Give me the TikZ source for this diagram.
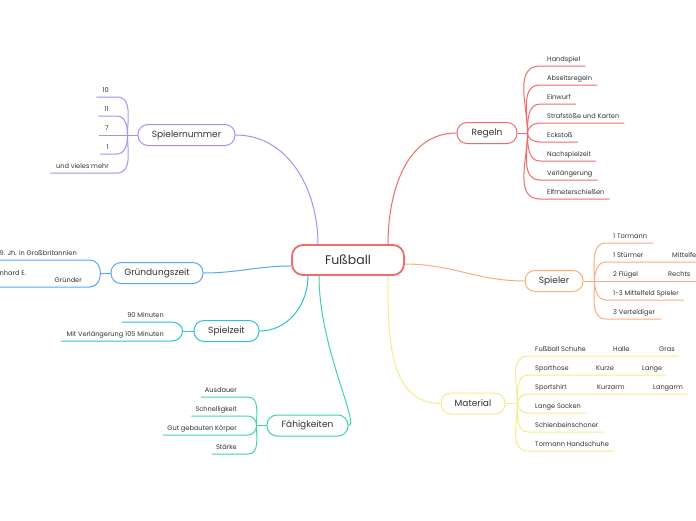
\documentclass[tikz,border=0pt]{standalone}
\usepackage{fontspec}
\setmainfont{Poppins}
\definecolor{mmtext}{HTML}{333333}
\definecolor{mmred}{HTML}{F26B6B}
\definecolor{mmpurple}{HTML}{A592F7}
\definecolor{mmblue}{HTML}{5AA8F0}
\definecolor{mmcyan}{HTML}{2CC3D6}
\definecolor{mmgreen}{HTML}{3FD6A3}
\definecolor{mmorange}{HTML}{FFAD78}
\definecolor{mmyellow}{HTML}{F8EA8A}
\begin{document}
\begin{tikzpicture}[x=1pt,y=-1pt,
    mmroot/.style={draw=mmred,line width=1.8pt,rounded corners=11pt,minimum width=112pt,
        minimum height=30pt,inner sep=0pt,text=mmtext,font=\fontsize{12.5}{14}\selectfont},
    mmtopic/.style={draw=#1,line width=1pt,rounded corners=10pt,minimum height=21pt,
        inner sep=0pt,text=mmtext,font=\fontsize{9}{11}\selectfont},
    mmleaf/.style={anchor=base west,inner sep=0pt,text=mmtext,font=\fontsize{6.6}{8}\selectfont},
    mmleft/.style={mmleaf,anchor=base east},
    mmline/.style={draw=#1,line width=1pt}]
\useasboundingbox [fill=white] (0,0) rectangle (696,520);

% centre and main topics
\node [mmroot] (fussball) at (348,260) {Fußball};
\node [mmtopic=mmred, minimum width=60pt] (regeln) at (487,133) {Regeln};
\node [mmtopic=mmpurple, minimum width=97pt] (nummer) at (186.5,135) {Spielernummer};
\node [mmtopic=mmblue, minimum width=92pt] (gruendung) at (157,273) {Gründungszeit};
\node [mmtopic=mmcyan, minimum width=65pt] (spielzeit) at (226.5,331) {Spielzeit};
\node [mmtopic=mmgreen, minimum width=81pt] (faehig) at (307.5,425.5) {Fähigkeiten};
\node [mmtopic=mmorange, minimum width=58pt] (spieler) at (554,281) {Spieler};
\node [mmtopic=mmyellow, minimum width=64pt] (material) at (473,403.5) {Material};

\draw [mmline=mmred] ([xshift=40pt]fussball.north) to[out=90,in=180] (regeln.west);
\draw [mmline=mmpurple] ([xshift=-30pt]fussball.north) to[out=90,in=0] (nummer.east);
\draw [mmline=mmblue] ([yshift=-6pt]fussball.west) to[out=180,in=0] (gruendung.east);
\draw [mmline=mmcyan] ([xshift=-40pt]fussball.south) to[out=-90,in=0] (spielzeit.east);
\draw [mmline=mmgreen] ([xshift=-29pt]fussball.south) to[out=-90,in=0,out looseness=1.2,in looseness=0.2] (faehig.east);
\draw [mmline=mmorange] ([yshift=-4pt]fussball.east) to[out=0,in=180] (spieler.west);
\draw [mmline=mmyellow] ([xshift=40pt]fussball.south) to[out=-90,in=180] (material.west);

% Regeln
\coordinate (rhub) at ([xshift=10pt]regeln.east);
\draw [mmline=mmred] (regeln.east) -- (rhub);
\node [mmleaf] (r1) at (547,61.5) {Handspiel};
\node [mmleaf] (r2) at (547,80.5) {Abseitsregeln};
\node [mmleaf] (r3) at (547,99.5) {Einwurf};
\node [mmleaf] (r4) at (547,118.5) {Strafstöße und Karten};
\node [mmleaf] (r5) at (547,137.5) {Eckstoß};
\node [mmleaf] (r6) at (547,156.5) {Nachspielzeit};
\node [mmleaf] (r7) at (547,175.5) {Verlängerung};
\node [mmleaf] (r8) at (547,194.5) {Elfmeterschießen};
\draw [mmline=mmred] (rhub) to[out=90,in=180] ([xshift=-7pt,yshift=-4.5pt]r1.base west) -- ([xshift=5pt,yshift=-4.5pt]r1.base east);
\draw [mmline=mmred] (rhub) to[out=90,in=180] ([xshift=-7pt,yshift=-4.5pt]r2.base west) -- ([xshift=5pt,yshift=-4.5pt]r2.base east);
\draw [mmline=mmred] (rhub) to[out=90,in=180] ([xshift=-7pt,yshift=-4.5pt]r3.base west) -- ([xshift=5pt,yshift=-4.5pt]r3.base east);
\draw [mmline=mmred] (rhub) to[out=90,in=180] ([xshift=-7pt,yshift=-4.5pt]r4.base west) -- ([xshift=5pt,yshift=-4.5pt]r4.base east);
\draw [mmline=mmred] (rhub) to[out=-90,in=180] ([xshift=-7pt,yshift=-4.5pt]r5.base west) -- ([xshift=5pt,yshift=-4.5pt]r5.base east);
\draw [mmline=mmred] (rhub) to[out=-90,in=180] ([xshift=-7pt,yshift=-4.5pt]r6.base west) -- ([xshift=5pt,yshift=-4.5pt]r6.base east);
\draw [mmline=mmred] (rhub) to[out=-90,in=180] ([xshift=-7pt,yshift=-4.5pt]r7.base west) -- ([xshift=5pt,yshift=-4.5pt]r7.base east);
\draw [mmline=mmred] (rhub) to[out=-90,in=180] ([xshift=-7pt,yshift=-4.5pt]r8.base west) -- ([xshift=5pt,yshift=-4.5pt]r8.base east);

% Spielernummer
\coordinate (nhub) at ([xshift=-10pt]nummer.west);
\draw [mmline=mmpurple] (nummer.west) -- (nhub);
\node [mmleft] (n1) at (109,92.5) {10};
\node [mmleft] (n2) at (109,111.5) {11};
\node [mmleft] (n3) at (109,130.5) {7};
\node [mmleft] (n4) at (109,149.5) {1};
\node [mmleft] (n5) at (109,168.5) {und vieles mehr};
\draw [mmline=mmpurple] ([xshift=-6pt,yshift=-4.5pt]n1.base west) -- ([xshift=8pt,yshift=-4.5pt]n1.base east) to[out=0,in=90] (nhub);
\draw [mmline=mmpurple] ([xshift=-6pt,yshift=-4.5pt]n2.base west) -- ([xshift=8pt,yshift=-4.5pt]n2.base east) to[out=0,in=90] (nhub);
\draw [mmline=mmpurple] ([xshift=-6pt,yshift=-4.5pt]n3.base west) -- (nhub);
\draw [mmline=mmpurple] ([xshift=-6pt,yshift=-4.5pt]n4.base west) -- ([xshift=8pt,yshift=-4.5pt]n4.base east) to[out=0,in=-90] (nhub);
\draw [mmline=mmpurple] ([xshift=-6pt,yshift=-4.5pt]n5.base west) -- ([xshift=8pt,yshift=-4.5pt]n5.base east) to[out=0,in=-90] (nhub);

% Gruendungszeit
\coordinate (ghub) at ([xshift=-10pt]gruendung.west);
\draw [mmline=mmblue] (gruendung.west) -- (ghub);
\node [mmleaf] (g1) at (-0.5,255.5) {9. Jh. in Großbritannien};
\node [mmleaf] (g2) at (-0.5,275) {nhard E.};
\node [mmleft] (g3) at (82,282.5) {Gründer};
\coordinate (g1end) at (90,260);
\coordinate (g3end) at (90,287);
\draw [mmline=mmblue] ([xshift=-10pt,yshift=-4.5pt]g1.base west) -- (g1end) to[out=0,in=90] (ghub);
\draw [mmline=mmblue] (-10,287) -- (g3end) to[out=0,in=-90] (ghub);

% Spielzeit
\coordinate (zhub) at ([xshift=-11pt]spielzeit.west);
\draw [mmline=mmcyan] (spielzeit.west) -- (zhub);
\node [mmleft] (z1) at (164,317.5) {90 Minuten};
\node [mmleft] (z2) at (164,336.5) {Mit Verlängerung 105 Minuten};
\draw [mmline=mmcyan] ([xshift=-5pt,yshift=-4.5pt]z1.base west) -- ([xshift=8pt,yshift=-4.5pt]z1.base east) to[out=0,in=90] (zhub);
\draw [mmline=mmcyan] ([xshift=-5pt,yshift=-4.5pt]z2.base west) -- ([xshift=8pt,yshift=-4.5pt]z2.base east) to[out=0,in=-90] (zhub);

% Faehigkeiten
\coordinate (fhub) at ([xshift=-10pt]faehig.west);
\draw [mmline=mmgreen] (faehig.west) -- (fhub);
\node [mmleft] (f1) at (237,392.5) {Ausdauer};
\node [mmleft] (f2) at (237,411.5) {Schnelligkeit};
\node [mmleft] (f3) at (237,430.5) {Gut gebauten Körper};
\node [mmleft] (f4) at (237,449.5) {Stärke};
\draw [mmline=mmgreen] ([xshift=-4pt,yshift=-4.5pt]f1.base west) -- ([xshift=11pt,yshift=-4.5pt]f1.base east) to[out=0,in=90] (fhub);
\draw [mmline=mmgreen] ([xshift=-4pt,yshift=-4.5pt]f2.base west) -- ([xshift=11pt,yshift=-4.5pt]f2.base east) to[out=0,in=90] (fhub);
\draw [mmline=mmgreen] ([xshift=-4pt,yshift=-4.5pt]f3.base west) -- ([xshift=11pt,yshift=-4.5pt]f3.base east) to[out=0,in=-90] (fhub);
\draw [mmline=mmgreen] ([xshift=-4pt,yshift=-4.5pt]f4.base west) -- ([xshift=11pt,yshift=-4.5pt]f4.base east) to[out=0,in=-90] (fhub);

% Spieler
\coordinate (shub) at ([xshift=11pt]spieler.east);
\draw [mmline=mmorange] (spieler.east) -- (shub);
\node [mmleaf] (s1) at (613,238.5) {1 Tormann};
\node [mmleaf] (s2) at (613,257.5) {1 Stürmer};
\node [mmleaf] (s2b) at (672,257.5) {Mittelfeld};
\node [mmleaf] (s3) at (613,276.5) {2 Flügel};
\node [mmleaf] (s3b) at (668,276.5) {Rechts};
\node [mmleaf] (s4) at (613,295.5) {1-3 Mittelfeld Spieler};
\node [mmleaf] (s5) at (613,314.5) {3 Verteidiger};
\draw [mmline=mmorange] (shub) to[out=90,in=180] ([xshift=-7pt,yshift=-4.5pt]s1.base west) -- ([xshift=6pt,yshift=-4.5pt]s1.base east);
\draw [mmline=mmorange] (shub) to[out=90,in=180] ([xshift=-7pt,yshift=-4.5pt]s2.base west) -- ([xshift=30pt,yshift=-4.5pt]s2b.base east);
\draw [mmline=mmorange] (shub) -- ([xshift=12pt,yshift=-4.5pt]s3b.base east);
\draw [mmline=mmorange] (shub) to[out=-90,in=180] ([xshift=-7pt,yshift=-4.5pt]s4.base west) -- ([xshift=5pt,yshift=-4.5pt]s4.base east);
\draw [mmline=mmorange] (shub) to[out=-90,in=180] ([xshift=-7pt,yshift=-4.5pt]s5.base west) -- ([xshift=6pt,yshift=-4.5pt]s5.base east);

% Material
\coordinate (mhub) at ([xshift=12pt]material.east);
\draw [mmline=mmyellow] (material.east) -- (mhub);
\node [mmleaf] (m1) at (535,351.5) {Fußball Schuhe};
\node [mmleaf] (m1b) at (613,351.5) {Halle};
\node [mmleaf] (m1c) at (659,351.5) {Gras};
\node [mmleaf] (m2) at (535,370.5) {Sporthose};
\node [mmleaf] (m2b) at (596,370.5) {Kurze};
\node [mmleaf] (m2c) at (642,370.5) {Lange};
\node [mmleaf] (m3) at (535,389.5) {Sportshirt};
\node [mmleaf] (m3b) at (597,389.5) {Kurzarm};
\node [mmleaf] (m3c) at (653,389.5) {Langarm};
\node [mmleaf] (m4) at (535,408.5) {Lange Socken};
\node [mmleaf] (m5) at (535,427.5) {Schienbeinschoner};
\node [mmleaf] (m6) at (535,446.5) {Tormann Handschuhe};
\draw [mmline=mmyellow] (mhub) to[out=90,in=180] ([xshift=-7pt,yshift=-4.5pt]m1.base west) -- ([xshift=4pt,yshift=-4.5pt]m1c.base east);
\draw [mmline=mmyellow] (mhub) to[out=90,in=180] ([xshift=-7pt,yshift=-4.5pt]m2.base west) -- ([xshift=4pt,yshift=-4.5pt]m2c.base east);
\draw [mmline=mmyellow] (mhub) to[out=90,in=180] ([xshift=-7pt,yshift=-4.5pt]m3.base west) -- ([xshift=4pt,yshift=-4.5pt]m3c.base east);
\draw [mmline=mmyellow] (mhub) to[out=-90,in=180] ([xshift=-7pt,yshift=-4.5pt]m4.base west) -- ([xshift=5pt,yshift=-4.5pt]m4.base east);
\draw [mmline=mmyellow] (mhub) to[out=-90,in=180] ([xshift=-7pt,yshift=-4.5pt]m5.base west) -- ([xshift=5pt,yshift=-4.5pt]m5.base east);
\draw [mmline=mmyellow] (mhub) to[out=-90,in=180] ([xshift=-7pt,yshift=-4.5pt]m6.base west) -- ([xshift=5pt,yshift=-4.5pt]m6.base east);
\end{tikzpicture}
\end{document}
